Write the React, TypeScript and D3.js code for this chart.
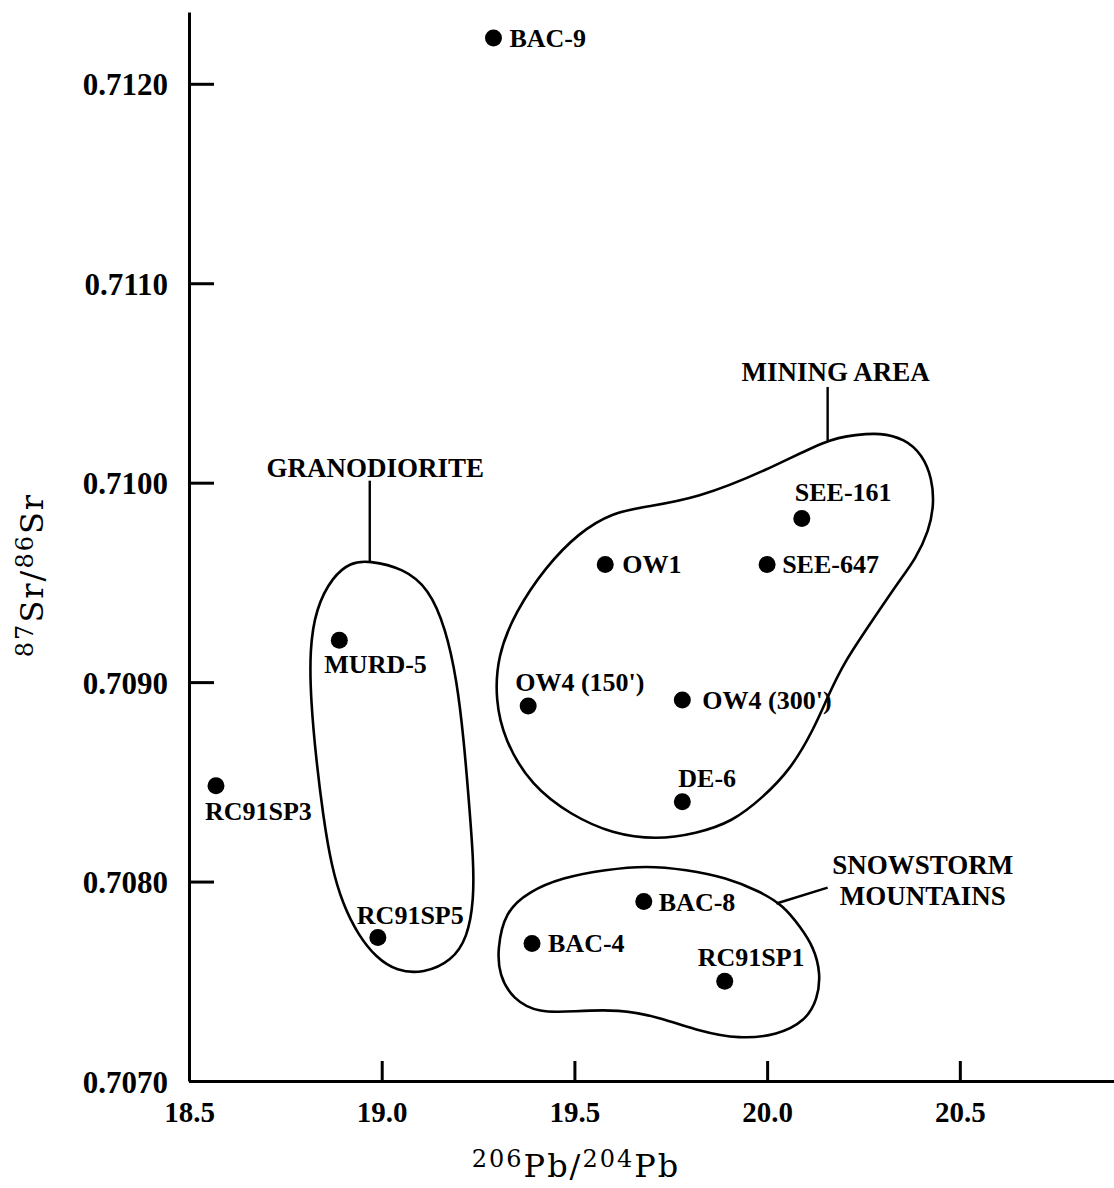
import React, { useEffect, useRef } from "react";
import * as d3 from "d3";

const W = 1114;
const H = 1188;

// samples: 206Pb/204Pb vs 87Sr/86Sr
const names = ["BAC-9", "SEE-161", "OW1", "SEE-647", "OW4 (150')", "OW4 (300')", "DE-6", "BAC-8", "BAC-4", "RC91SP1", "MURD-5", "RC91SP5", "RC91SP3"];
const pb = [19.29, 20.09, 19.58, 20.0, 19.38, 19.78, 19.78, 19.68, 19.39, 19.89, 18.89, 18.99, 18.57];
const sr = [0.71223, 0.70982, 0.70959, 0.70959, 0.70888, 0.70891, 0.7084, 0.7079, 0.70769, 0.7075, 0.70921, 0.70772, 0.70848];

const xTicks = [18.5, 19.0, 19.5, 20.0, 20.5];
const yTicks = [0.707, 0.708, 0.709, 0.71, 0.711, 0.712];

// hand drawn group outlines, in data units
const granodiorite: [number, number][] = [
  [18.966, 0.70961], [19.057, 0.70957], [19.122, 0.70947], [19.166, 0.70927], [19.195, 0.70901],
  [19.213, 0.70871], [19.226, 0.70841], [19.238, 0.70811], [19.239, 0.70791], [19.223, 0.70772],
  [19.181, 0.7076], [19.109, 0.70754], [19.039, 0.70755], [18.985, 0.70762], [18.94, 0.70773],
  [18.9, 0.70788], [18.869, 0.70808], [18.848, 0.70833], [18.83, 0.70861], [18.816, 0.70891],
  [18.813, 0.70916], [18.829, 0.70937], [18.873, 0.70953], [18.919, 0.7096],
];
const miningArea: [number, number][] = [
  [19.816, 0.70992], [19.998, 0.71006], [20.157, 0.71022], [20.232, 0.71024], [20.292, 0.71025],
  [20.357, 0.71022], [20.403, 0.71014], [20.428, 0.71002], [20.433, 0.70989], [20.42, 0.70976],
  [20.386, 0.70962], [20.34, 0.7095], [20.27, 0.7093], [20.2, 0.7091], [20.158, 0.70893],
  [20.12, 0.70876], [20.06, 0.70856], [19.988, 0.70842], [19.91, 0.7083], [19.816, 0.70824],
  [19.712, 0.70821], [19.598, 0.70824], [19.494, 0.70833], [19.388, 0.70848], [19.318, 0.70871],
  [19.295, 0.70891], [19.3, 0.70913], [19.346, 0.70935], [19.426, 0.70958], [19.512, 0.70975],
  [19.598, 0.70985], [19.686, 0.70988],
];
const snowstorm: [number, number][] = [
  [19.3, 0.70766], [19.32, 0.70785], [19.382, 0.70795], [19.468, 0.70802], [19.582, 0.70806],
  [19.686, 0.70808], [19.79, 0.70806], [19.894, 0.70802], [19.982, 0.70795], [20.042, 0.70788],
  [20.087, 0.70777], [20.121, 0.70767], [20.139, 0.70754], [20.131, 0.70741], [20.099, 0.7073],
  [20.027, 0.70723], [19.928, 0.70721], [19.824, 0.70725], [19.72, 0.70732], [19.616, 0.70736],
  [19.499, 0.70735], [19.408, 0.70734], [19.34, 0.70741], [19.305, 0.70753],
];

// group captions and their leader lines
const groupNames = [["GRANODIORITE"], ["MINING AREA"], ["SNOWSTORM", "MOUNTAINS"]];
const groupLabelAt: [number, number][] = [[18.983, 0.71003], [20.178, 0.71051], [20.404, 0.70804]];
const leaders: [number, number][][] = [
  [[18.969, 0.71001], [18.969, 0.7096]],
  [[20.157, 0.71048], [20.157, 0.71021]],
  [[20.157, 0.70797], [20.024, 0.70789]],
];

// label placement around each dot (px offsets to text start / baseline)
const labelOffset: Record<string, [number, number]> = {
  "BAC-9": [16, 9], "SEE-161": [-7, -18], "OW1": [17, 9], "SEE-647": [15, 9],
  "OW4 (150')": [-13, -15], "OW4 (300')": [20, 9], "DE-6": [-4, -15], "BAC-8": [15, 9],
  "BAC-4": [16, 9], "RC91SP1": [-27, -15], "MURD-5": [-15, 33], "RC91SP5": [-21, -13],
  "RC91SP3": [-11, 34],
};

const x = d3.scaleLinear().domain([18.5, 20.9]).range([189, 1114]);
const y = d3.scaleLinear().domain([0.707, 0.71236]).range([1081, 12]);

const blob = d3.line<[number, number]>()
  .x(d => x(d[0]))
  .y(d => y(d[1]))
  .curve(d3.curveBasisClosed);
const straight = d3.line<[number, number]>().x(d => x(d[0])).y(d => y(d[1]));

const serif = "'Liberation Serif', 'DejaVu Serif', serif";
const wide = "'DejaVu Serif', serif";

const App = () => {
  const xRef = useRef<SVGGElement>(null);
  const yRef = useRef<SVGGElement>(null);

  useEffect(() => {
    const gx = d3.select(xRef.current);
    gx.selectAll("*").remove();
    gx.call(d3.axisBottom(x).tickValues(xTicks).tickFormat(d3.format(".1f")).tickSizeInner(-20).tickSizeOuter(0).tickPadding(20));
    const gy = d3.select(yRef.current);
    gy.selectAll("*").remove();
    gy.call(d3.axisLeft(y).tickValues(yTicks).tickFormat(d3.format(".4f")).tickSizeInner(-25).tickSizeOuter(0).tickPadding(21));
    for (const g of [gx, gy]) {
      g.select(".domain").attr("stroke", "#000").attr("stroke-width", 3);
      g.selectAll(".tick line").attr("stroke", "#000").attr("stroke-width", 3);
      g.selectAll(".tick text")
        .attr("fill", "#000")
        .attr("font-family", serif)
        .attr("font-weight", "bold");
    }
    gx.selectAll(".tick text").attr("font-size", 29);
    gy.selectAll(".tick text").attr("font-size", 31).attr("dy", "0.36em");
  }, []);

  return (
    <svg width={W} height={H} style={{ position: "absolute", left: 0, top: 0, background: "#fff" }}>
      <rect width={W} height={H} fill="#fff" />
      <g ref={xRef} transform={`translate(0,${y(0.707)})`} />
      <g ref={yRef} transform={`translate(${x(18.5)},0)`} />

      {[granodiorite, miningArea, snowstorm].map((o, i) => (
        <path key={i} d={blob(o) || ""} fill="none" stroke="#000" strokeWidth={2.6} />
      ))}
      {leaders.map((l, i) => (
        <path key={i} d={straight(l) || ""} fill="none" stroke="#000" strokeWidth={2.4} />
      ))}
      {groupNames.map((lines, i) => (
        <text key={i} x={x(groupLabelAt[i][0])} y={y(groupLabelAt[i][1])} textAnchor="middle"
          fontFamily={serif} fontWeight="bold" fontSize={27} fill="#000">
          {lines.map((t, j) => (
            <tspan key={j} x={x(groupLabelAt[i][0])} dy={j === 0 ? 0 : 31}>{t}</tspan>
          ))}
        </text>
      ))}

      {names.map((n, i) => (
        <g key={n}>
          <circle cx={x(pb[i])} cy={y(sr[i])} r={8.5} fill="#000" />
          <text x={x(pb[i]) + labelOffset[n][0]} y={y(sr[i]) + labelOffset[n][1]}
            fontFamily={serif} fontWeight="bold" fontSize={26} fill="#000">{n}</text>
        </g>
      ))}

      <text x={576} y={1177} textAnchor="middle" fontFamily={wide} fontSize={32} letterSpacing={2} fill="#000">
        <tspan fontSize={24} dy={-10}>206</tspan>
        <tspan dy={10}>Pb/</tspan>
        <tspan fontSize={24} dy={-10}>204</tspan>
        <tspan dy={10}>Pb</tspan>
      </text>
      <text transform="translate(43,575) rotate(-90)" textAnchor="middle" fontFamily={wide} fontSize={32} letterSpacing={2} fill="#000">
        <tspan fontSize={24} dy={-10}>87</tspan>
        <tspan dy={10}>Sr/</tspan>
        <tspan fontSize={24} dy={-10}>86</tspan>
        <tspan dy={10}>Sr</tspan>
      </text>
    </svg>
  );
};

export default App;
